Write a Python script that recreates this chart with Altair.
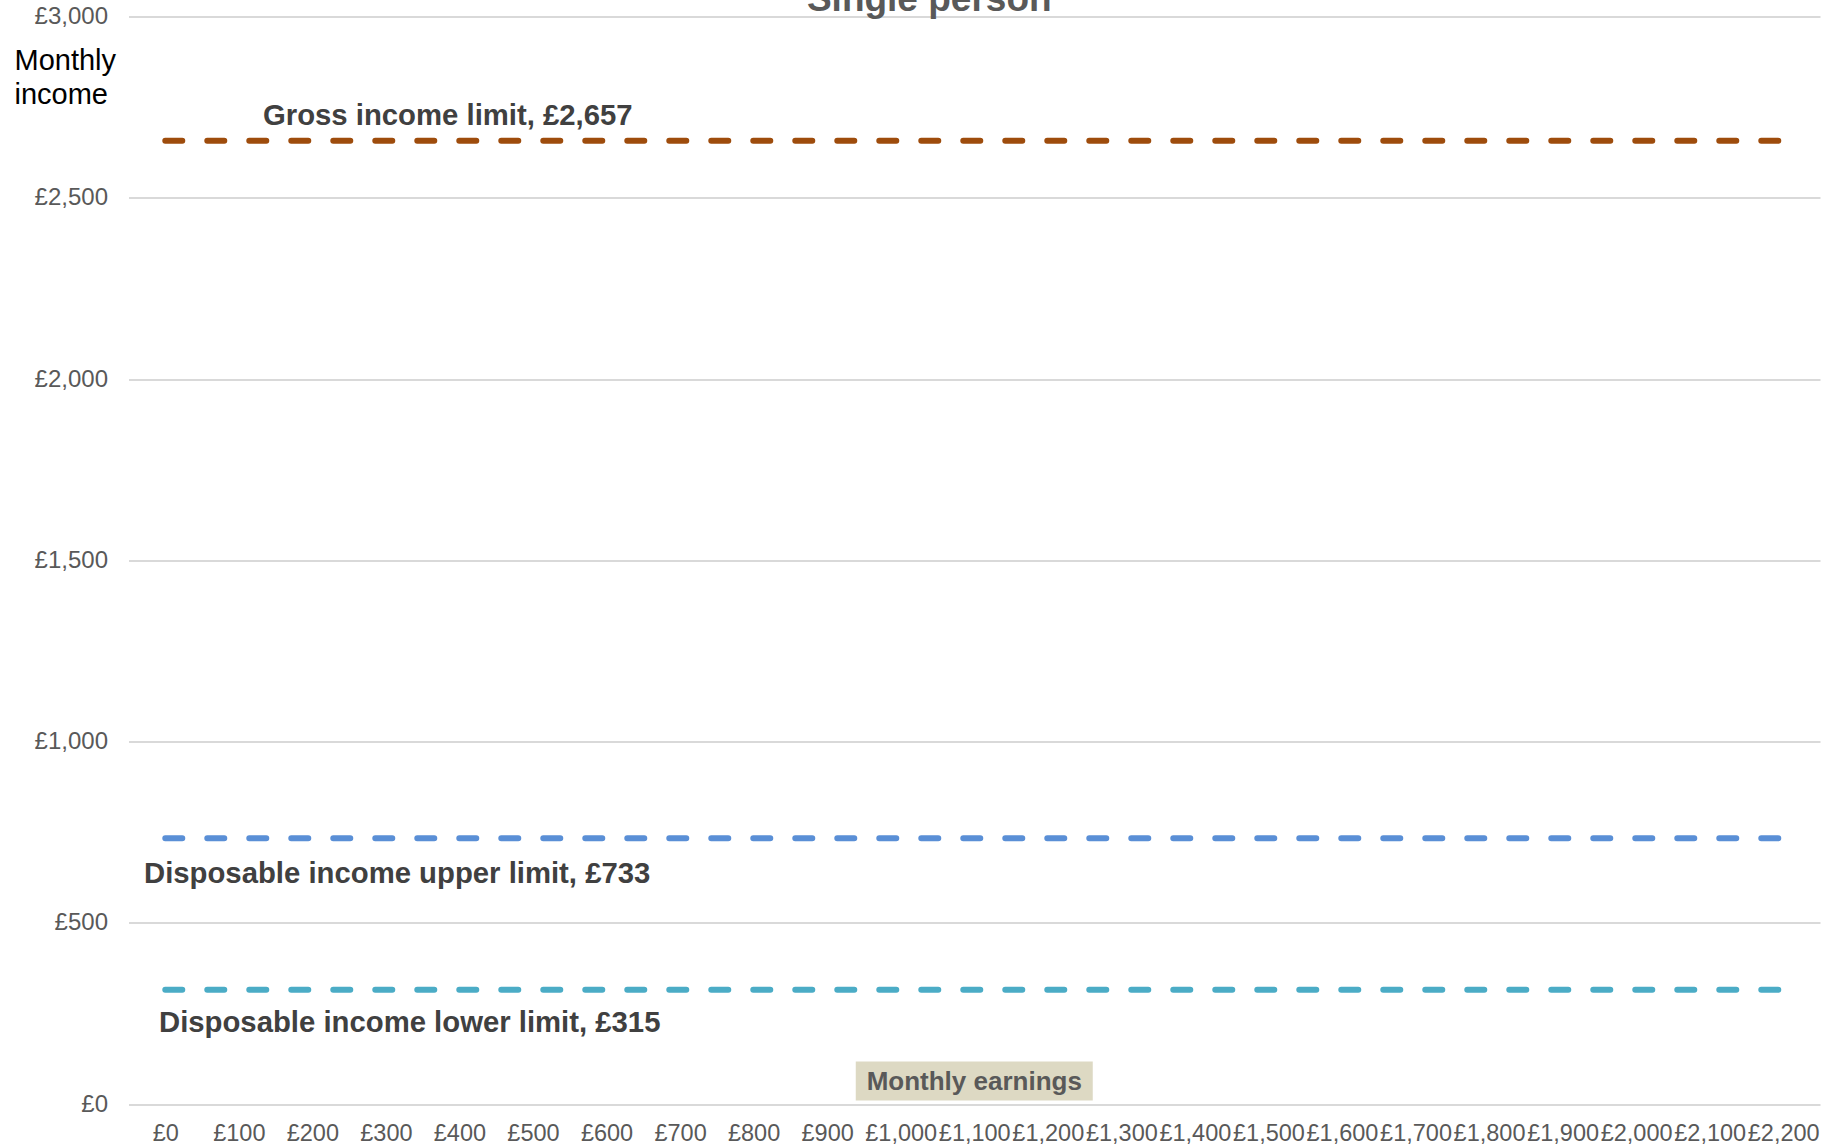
import altair as alt
import pandas as pd

# Monthly earnings categories along the x axis
earnings = [0, 100, 200, 300, 400, 500, 600, 700, 800, 900, 1000,
            1100, 1200, 1300, 1400, 1500, 1600, 1700, 1800, 1900,
            2000, 2100, 2200]
earn_labels = [f"£{v:,}" for v in earnings]

# Income limits for a single person (monthly)
series_names = ["Gross income limit",
                "Disposable income upper limit",
                "Disposable income lower limit"]
series_values = [2657, 733, 315]
series_colors = ["#9E4C0C", "#5A8FD6", "#4BACC6"]

y_ticks = [0, 500, 1000, 1500, 2000, 2500, 3000]

FONT = "Liberation Sans"
W, H = 1691.5, 1087.5

rows = []
for name, val in zip(series_names, series_values):
    for lab in earn_labels:
        rows.append({"earnings": lab, "income": val, "series": name})
df = pd.DataFrame(rows)

x_scale = alt.Scale(type="point", padding=0.5, domain=earn_labels)
y_scale = alt.Scale(domain=[0, 3000], nice=False)

x_enc = alt.X(
    "earnings:N", scale=x_scale,
    axis=alt.Axis(
        title=None, labelAngle=0, labelOverlap=False, labelFont=FONT,
        labelFontSize=23.5, labelColor="#595959", labelPadding=17.5,
        domain=False, ticks=False, tickSize=0, grid=False,
    ),
)
y_enc = alt.Y(
    "income:Q", scale=y_scale,
    axis=alt.Axis(
        values=y_ticks, labelExpr="'£' + format(datum.value, ',')",
        labelFont=FONT, labelFontSize=24, labelColor="#595959",
        labelPadding=21, domain=False, ticks=False, tickSize=0,
        grid=True, gridColor="#D9D9D9", gridWidth=2,
        title=["Monthly", "income"], titleAngle=0, titleAlign="left",
        titleBaseline="alphabetic", titleX=-114.5, titleY=52.5,
        titleFont=FONT, titleFontSize=29, titleFontWeight="normal",
        titleColor="#000000", titleLineHeight=34,
    ),
)

lines = alt.Chart(df).mark_line(
    strokeWidth=6, strokeDash=[17, 25], strokeCap="round"
).encode(
    x=x_enc,
    y=y_enc,
    color=alt.Color("series:N",
                    scale=alt.Scale(domain=series_names, range=series_colors),
                    legend=None),
)

# Series labels, each placed next to its own line
label_offsets = [(97.7, -15.5), (-21.3, 44.5), (-6.3, 42.6)]
label_layers = []
for name, val, (dx, dy) in zip(series_names, series_values, label_offsets):
    ldf = pd.DataFrame({"income": [val], "text": [f"{name}, £{val:,}"]})
    label_layers.append(
        alt.Chart(ldf).mark_text(
            align="left", baseline="alphabetic", dx=dx, dy=dy,
            font=FONT, fontSize=29.3, fontWeight="bold", color="#404040",
        ).encode(
            x=alt.datum("£0", scale=x_scale),
            y=alt.Y("income:Q", scale=y_scale),
            text="text:N",
        )
    )

# Shaded box behind the x-axis caption
box_path = "M-1,-0.1646L1,-0.1646L1,0.1646L-1,0.1646Z"
box = alt.Chart(pd.DataFrame({"k": [0]})).mark_point(
    shape=box_path, size=237 ** 2, filled=True, fill="#DDD9C3",
    opacity=1, strokeWidth=0, yOffset=-23,
).encode(
    x=alt.datum("£1,100", scale=x_scale),
    y=alt.datum(0, scale=y_scale),
)
box_text = alt.Chart(pd.DataFrame({"k": [0]})).mark_text(
    text="Monthly earnings", align="center", baseline="alphabetic", dy=-14,
    font=FONT, fontSize=26, fontWeight="bold", color="#595959",
).encode(
    x=alt.datum("£1,100", scale=x_scale),
    y=alt.datum(0, scale=y_scale),
)

title = alt.Chart(pd.DataFrame({"k": [0]})).mark_text(
    text="Single person", align="center", baseline="alphabetic",
    dx=-45, dy=-6, font=FONT, fontSize=37, fontWeight="bold",
    color="#595959",
).encode(
    x=alt.datum("£1,100", scale=x_scale),
    y=alt.datum(3000, scale=y_scale),
)

chart = alt.layer(lines, *label_layers, box, box_text, title).properties(
    width=W, height=H,
    autosize=alt.AutoSizeParams(type="none"),
    padding={"left": 128.5, "top": 16.5, "right": 13, "bottom": 42},
    background="white",
).configure_view(stroke=None)

chart.save("out.html", embed_options={"renderer": "svg", "actions": False})
